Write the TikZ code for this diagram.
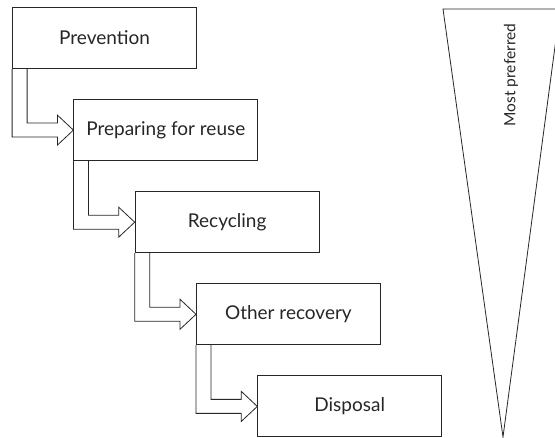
\documentclass[tikz,border=0pt]{standalone}
\usepackage{fontspec}
\setmainfont{Lato}
\usetikzlibrary{calc}
\tikzset{
  stagebox/.style={draw=black!85, line width=0.8pt, minimum width=184pt, minimum height=61pt,
    inner sep=0pt, font=\fontsize{19}{22}\selectfont, text=black!85},
  flowarrow/.style={draw=black!85, line width=0.8pt, line join=miter},
}
\begin{document}
\begin{tikzpicture}[x=1pt,y=-1pt]
\useasboundingbox (0,0) rectangle (555,438);
\clip (0,0) rectangle (555,438);
% stages of the hierarchy
\foreach \i/\txt in {1/Prevention,2/Preparing for reuse,3/Recycling,4/Other recovery,5/Disposal}
  \node[stagebox] (b\i) at ({104.5+61.3*(\i-1)},{38+92.1*(\i-1)}) {\txt};
% hollow arrows between stages
\foreach \i/\j in {1/2,2/3,3/4,4/5}
  \draw[flowarrow] (b\i.south west) |- ($(b\j.west)+(-16,7)$) -- ++(0,8) -- (b\j.west)
    -- ++(-16,-15) -- ++(0,8) -| ($(b\i.south west)+(15,0)$);
% preference wedge
\draw[black!85, line width=0.8pt] (443,9) -- (560,9) -- (503,437) -- cycle;
\node[rotate=90, font=\fontsize{15.5}{18}\selectfont, text=black!85] (pref) at (511,75) {Most preferred};
\end{tikzpicture}
\end{document}
